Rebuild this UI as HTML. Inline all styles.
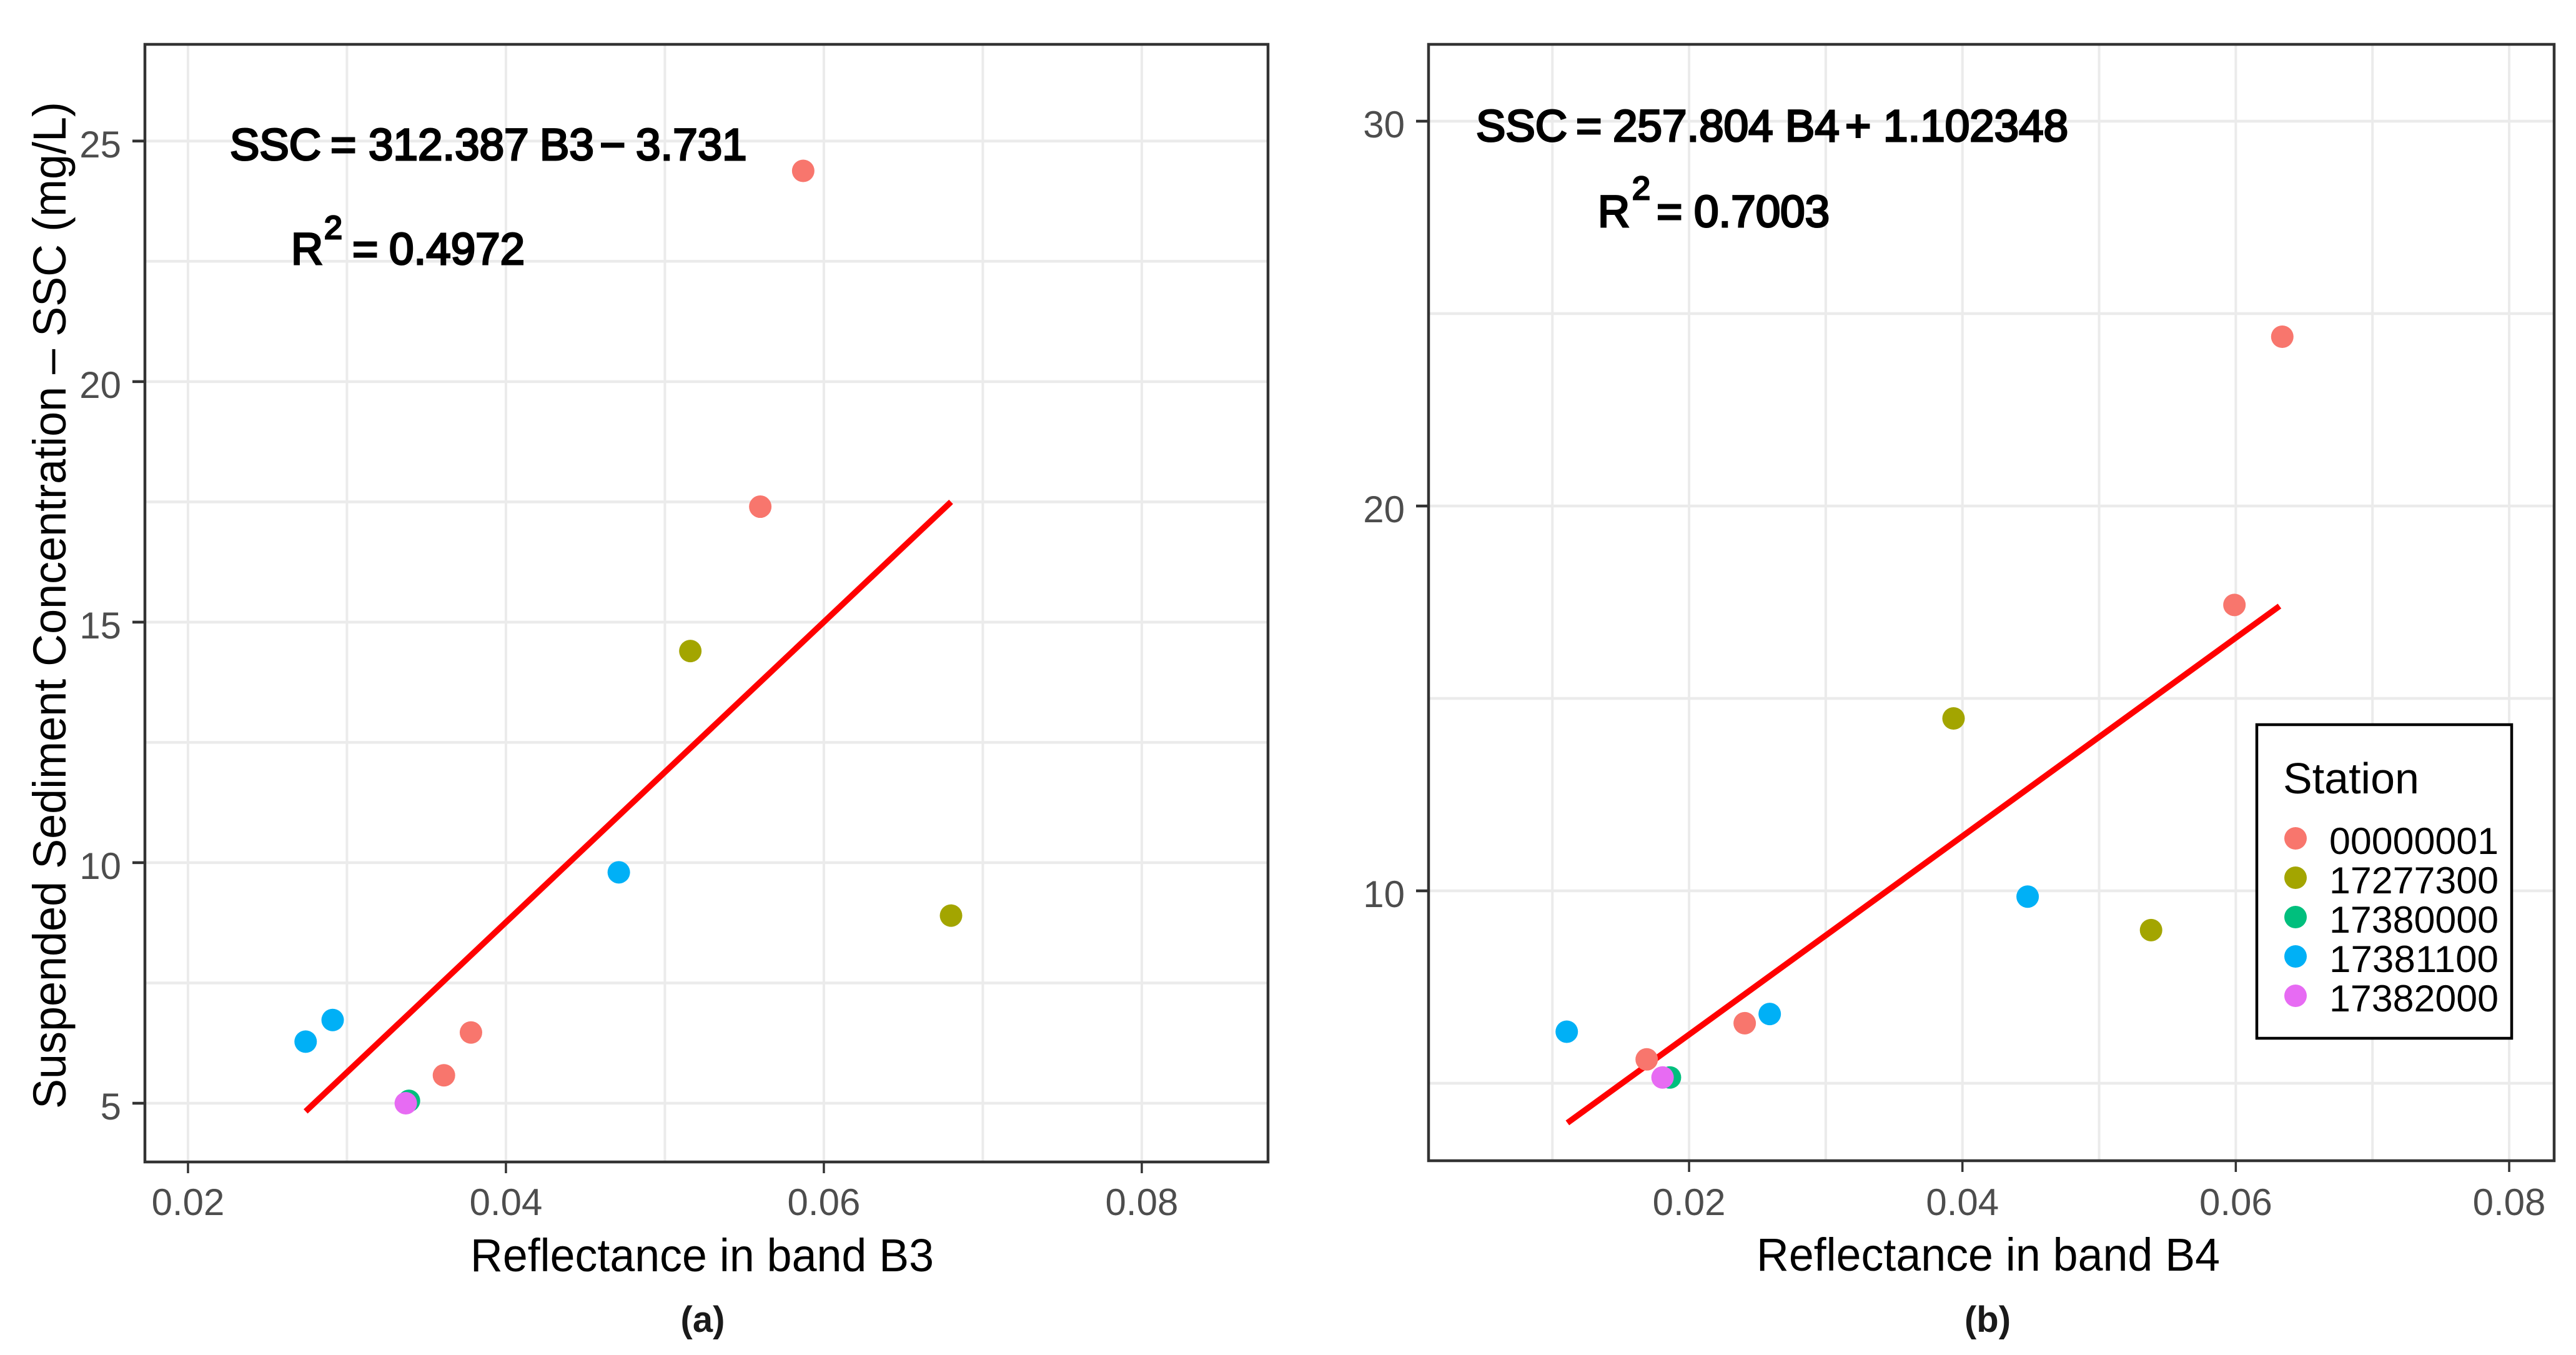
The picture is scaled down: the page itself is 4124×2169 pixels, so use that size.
<!DOCTYPE html>
<html lang="en">
<head>
<meta charset="utf-8">
<title>Suspended sediment concentration vs reflectance</title>
<style>
html,body{margin:0;padding:0;background:#fff;}
svg{display:block;font-family:"Liberation Sans",sans-serif;}
.eq{font-size:71px;fill:#000;stroke:#000;stroke-width:3px;}
.axt{font-size:74px;fill:#000;}
.cap{font-size:58px;font-weight:bold;fill:#1a1a1a;text-anchor:middle;}
</style>
</head>
<body>
<svg id="chart" xmlns="http://www.w3.org/2000/svg" width="4124" height="2169" viewBox="0 0 4124 2169">
  <rect x="0" y="0" width="4124" height="2169" fill="#ffffff"/>
  <g id="panel-a"></g>
  <g id="panel-b"></g>

  <text class="axt" transform="translate(105,1775) rotate(-90)" textLength="1612" lengthAdjust="spacingAndGlyphs">Suspended Sediment Concentration – SSC (mg/L)</text>
  <text class="axt" x="753" y="2035" textLength="742" lengthAdjust="spacingAndGlyphs">Reflectance in band B3</text>
  <text class="axt" x="2812" y="2034" textLength="742" lengthAdjust="spacingAndGlyphs">Reflectance in band B4</text>
  <text class="cap" x="1125" y="2132">(a)</text>
  <text class="cap" x="3182" y="2132">(b)</text>

  <text class="eq" y="256"><tspan x="368">SSC</tspan><tspan x="529">=</tspan><tspan x="590">312.387</tspan><tspan x="864">B3</tspan><tspan x="960">−</tspan><tspan x="1018">3.731</tspan></text>
  <text class="eq" y="423"><tspan x="466">R</tspan><tspan x="564">=</tspan><tspan x="623">0.4972</tspan></text>
  <text class="eq" x="519" y="382" style="font-size:52px">2</text>

  <text class="eq" y="226"><tspan x="2363">SSC</tspan><tspan x="2523">=</tspan><tspan x="2582">257.804</tspan><tspan x="2858">B4</tspan><tspan x="2954">+</tspan><tspan x="3015">1.102348</tspan></text>
  <text class="eq" y="363"><tspan x="2558">R</tspan><tspan x="2652">=</tspan><tspan x="2712">0.7003</tspan></text>
  <text class="eq" x="2613" y="319" style="font-size:52px">2</text>

  <g id="legend">
    <rect x="3613" y="1160" width="408" height="502" fill="#ffffff" stroke="#000000" stroke-width="4.5"/>
    <text x="3655" y="1270" font-size="70" fill="#000">Station</text>
  </g>
</svg>
<script>
// Shared
var stations = ['00000001', '17277300', '17380000', '17381100', '17382000'];
var stationColors = ['#F8766D', '#A3A500', '#00BF7D', '#00B0F6', '#E76BF3'];

// Panel (a) data: [reflectance B3], [SSC] per station
var aX0 = [0.0587, 0.056, 0.0378, 0.0361];
var aY0 = [24.38, 17.4, 6.47, 5.58];
var aX1 = [0.0516, 0.068];
var aY1 = [14.4, 8.9];
var aX2 = [0.0339];
var aY2 = [5.05];
var aX3 = [0.0471, 0.0291, 0.0274];
var aY3 = [9.8, 6.73, 6.28];
var aX4 = [0.0337];
var aY4 = [5.0];
var aFitX = [0.0274, 0.068];
var aFitY = [4.83, 17.5];
var aXTicks = [0.02, 0.04, 0.06, 0.08];
var aXTickLabels = ['0.02', '0.04', '0.06', '0.08'];
var aXMinor = [0.03, 0.05, 0.07];
var aYTicks = [5, 10, 15, 20, 25];
var aYTickLabels = ['5', '10', '15', '20', '25'];
var aYMinor = [7.5, 12.5, 17.5, 22.5];

// Panel (b) data: [reflectance B4], [SSC] per station
var bX0 = [0.0634, 0.0599, 0.02407, 0.0169];
var bY0 = [24.4, 17.43, 6.56, 5.62];
var bX1 = [0.03935, 0.0538];
var bY1 = [14.48, 8.98];
var bX2 = [0.0186];
var bY2 = [5.15];
var bX3 = [0.04477, 0.0259, 0.01105];
var bY3 = [9.85, 6.8, 6.34];
var bX4 = [0.01806];
var bY4 = [5.15];
var bFitX = [0.0111, 0.0632];
var bFitY = [3.97, 17.4];
var bXTicks = [0.02, 0.04, 0.06, 0.08];
var bXTickLabels = ['0.02', '0.04', '0.06', '0.08'];
var bXMinor = [0.01, 0.03, 0.05, 0.07];
var bYTicks = [10, 20, 30];
var bYTickLabels = ['10', '20', '30'];
var bYMinor = [5, 15, 25];

var NS = 'http://www.w3.org/2000/svg';

function linear(d0, d1, r0, r1) {
  return function (v) { return r0 + (v - d0) / (d1 - d0) * (r1 - r0); };
}

function shape(parent, tag, attrs) {
  var el = document.createElementNS(NS, tag);
  for (var k in attrs) { el.setAttribute(k, attrs[k]); }
  parent.appendChild(el);
  return el;
}

function drawPanel(p) {
  var g = document.getElementById(p.id);
  var sx = linear(p.xDomain[0], p.xDomain[1], p.left, p.right);
  var sy = linear(p.yDomain[0], p.yDomain[1], p.bottom, p.top);

  shape(g, 'rect', { x: p.left, y: p.top, width: p.right - p.left, height: p.bottom - p.top, fill: '#ffffff' });

  p.xMinor.concat(p.xTicks).forEach(function (v) {
    var el = shape(g, 'line', { x1: sx(v), x2: sx(v), y1: p.top, y2: p.bottom, stroke: '#ebebeb', 'stroke-width': 4 });
    
    
  });
  p.yMinor.concat(p.yTicks).forEach(function (v) {
    var el = shape(g, 'line', { x1: p.left, x2: p.right, y1: sy(v), y2: sy(v), stroke: '#ebebeb', 'stroke-width': 4.5 });
    
    
  });

  var fit = shape(g, 'polyline', {
    points: p.fitX.map(function (v, i) { return sx(v) + ',' + sy(p.fitY[i]); }).join(' '),
    fill: 'none', stroke: '#ff0000', 'stroke-width': 9.5
  });
  
  

  p.seriesX.forEach(function (xs, s) {
    xs.forEach(function (v, i) {
      var c = shape(g, 'circle', { cx: sx(v), cy: sy(p.seriesY[s][i]), r: 18, fill: stationColors[s] });
      
      
    });
  });

  var frame = shape(g, 'rect', { x: p.left, y: p.top, width: p.right - p.left, height: p.bottom - p.top, fill: 'none', stroke: '#333333', 'stroke-width': 4.5 });
  
  

  p.xTicks.forEach(function (v, i) {
    var t = shape(g, 'line', { x1: sx(v), x2: sx(v), y1: p.bottom, y2: p.bottom + 18, stroke: '#333333', 'stroke-width': 3.5 });
    
    
    var l = shape(g, 'text', { x: sx(v), y: 1945, 'text-anchor': 'middle', 'font-size': 60, fill: '#4d4d4d' });
    l.textContent = p.xLabels[i];
    
    
  });
  p.yTicks.forEach(function (v, i) {
    var t = shape(g, 'line', { x1: p.left - 20, x2: p.left, y1: sy(v), y2: sy(v), stroke: '#333333', 'stroke-width': 4.5 });
    
    
    var l = shape(g, 'text', { x: p.left - 38, y: sy(v) + 26, 'text-anchor': 'end', 'font-size': 60, fill: '#4d4d4d' });
    l.textContent = p.yLabels[i];
    
    
  });
}

drawPanel({
  id: 'panel-a', left: 232, right: 2030, top: 71, bottom: 1860,
  xDomain: [0.01729, 0.08794], yDomain: [3.779, 27.01],
  xTicks: aXTicks, xLabels: aXTickLabels, xMinor: aXMinor,
  yTicks: aYTicks, yLabels: aYTickLabels, yMinor: aYMinor,
  seriesX: [aX0, aX1, aX2, aX3, aX4], seriesY: [aY0, aY1, aY2, aY3, aY4],
  fitX: aFitX, fitY: aFitY
});
drawPanel({
  id: 'panel-b', left: 2287, right: 4089, top: 71, bottom: 1858,
  xDomain: [0.00094, 0.08329], yDomain: [2.987, 31.997],
  xTicks: bXTicks, xLabels: bXTickLabels, xMinor: bXMinor,
  yTicks: bYTicks, yLabels: bYTickLabels, yMinor: bYMinor,
  seriesX: [bX0, bX1, bX2, bX3, bX4], seriesY: [bY0, bY1, bY2, bY3, bY4],
  fitX: bFitX, fitY: bFitY
});

var legendGroup = document.getElementById('legend');
stations.forEach(function (name, i) {
  var key = shape(legendGroup, 'circle', { cx: 3675, cy: 1342 + 63 * i, r: 18, fill: stationColors[i] });
  
  
  var label = shape(legendGroup, 'text', { x: 3729, y: 1367 + 63 * i, 'font-size': 60, fill: '#000', textLength: 271, lengthAdjust: 'spacingAndGlyphs' });
  label.textContent = name;
  
  
});
</script>
</body>
</html>
